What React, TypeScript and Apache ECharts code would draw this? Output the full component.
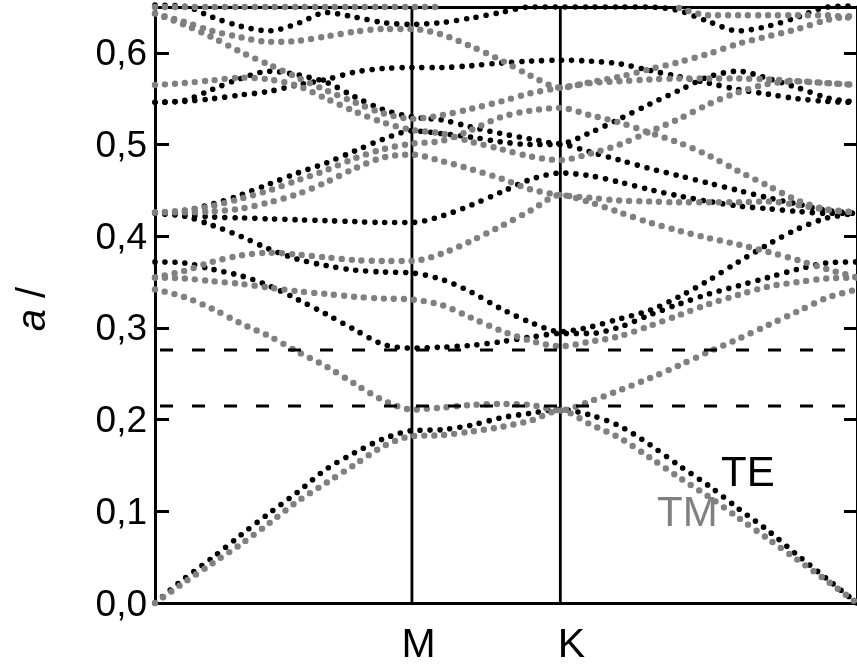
import React, { useEffect, useRef } from "react";
import * as echarts from "echarts";

// k-path positions (normalised): Γ=0, M=0.366, K=0.5774, Γ=1
const K_PATH = [0, 0.0407, 0.0813, 0.122, 0.1627, 0.2033, 0.244, 0.2847, 0.3253, 0.366, 0.4083, 0.4506, 0.4929, 0.5352, 0.5774, 0.6197, 0.662, 0.7042, 0.7465, 0.7887, 0.831, 0.8732, 0.9155, 0.9577, 1.0];
const SYM_M = 0.366;
const SYM_K = 0.5774;
const GAP_LOW = 0.2148;
const GAP_HIGH = 0.2759;
const Y_TICKS = [0, 0.1, 0.2, 0.3, 0.4, 0.5, 0.6];
const X_LABELS = ["M", "K"];

// TE bands (black)
const TE1 = [0, 0.026, 0.049, 0.074, 0.098, 0.121, 0.146, 0.164, 0.179, 0.188, 0.189, 0.194, 0.202, 0.207, 0.211, 0.205, 0.193, 0.173, 0.15, 0.128, 0.103, 0.079, 0.052, 0.026, 0];
const TE2 = [0.372, 0.371, 0.364, 0.357, 0.346, 0.331, 0.315, 0.298, 0.282, 0.278, 0.279, 0.281, 0.285, 0.29, 0.294, 0.294, 0.301, 0.314, 0.326, 0.337, 0.346, 0.355, 0.364, 0.371, 0.372];
const TE3 = [0.425, 0.422, 0.412, 0.4, 0.386, 0.375, 0.368, 0.363, 0.361, 0.36, 0.353, 0.339, 0.321, 0.306, 0.296, 0.301, 0.31, 0.319, 0.334, 0.352, 0.372, 0.391, 0.408, 0.42, 0.425];
const TE4 = [0.425, 0.423, 0.421, 0.42, 0.419, 0.418, 0.417, 0.416, 0.415, 0.415, 0.422, 0.434, 0.448, 0.462, 0.469, 0.466, 0.459, 0.451, 0.444, 0.438, 0.433, 0.43, 0.427, 0.425, 0.425];
const TE5 = [0.546, 0.548, 0.56, 0.572, 0.58, 0.576, 0.568, 0.552, 0.538, 0.53, 0.527, 0.519, 0.512, 0.506, 0.501, 0.513, 0.528, 0.544, 0.559, 0.574, 0.58, 0.572, 0.562, 0.551, 0.546];
const TE6 = [0.425, 0.428, 0.435, 0.445, 0.457, 0.469, 0.48, 0.493, 0.506, 0.515, 0.512, 0.508, 0.503, 0.5, 0.5, 0.492, 0.483, 0.474, 0.466, 0.458, 0.45, 0.442, 0.435, 0.428, 0.425];
const TE7 = [0.546, 0.547, 0.55, 0.554, 0.558, 0.565, 0.571, 0.579, 0.583, 0.584, 0.584, 0.586, 0.589, 0.591, 0.592, 0.591, 0.588, 0.581, 0.574, 0.567, 0.56, 0.555, 0.55, 0.547, 0.546];
const TE8 = [0.652, 0.651, 0.639, 0.629, 0.624, 0.632, 0.644, 0.639, 0.633, 0.631, 0.633, 0.638, 0.644, 0.65, 0.65, 0.65, 0.65, 0.65, 0.646, 0.634, 0.624, 0.629, 0.639, 0.65, 0.651];

// TM bands (grey)
const TM1 = [0, 0.022, 0.043, 0.064, 0.087, 0.111, 0.131, 0.151, 0.171, 0.182, 0.183, 0.187, 0.192, 0.199, 0.21, 0.195, 0.18, 0.159, 0.137, 0.116, 0.093, 0.07, 0.047, 0.024, 0];
const TM2 = [0.342, 0.334, 0.321, 0.305, 0.291, 0.274, 0.258, 0.239, 0.221, 0.211, 0.213, 0.216, 0.217, 0.216, 0.21, 0.22, 0.232, 0.245, 0.259, 0.274, 0.288, 0.303, 0.318, 0.333, 0.342];
const TM3 = [0.355, 0.354, 0.351, 0.348, 0.344, 0.34, 0.337, 0.334, 0.332, 0.331, 0.325, 0.311, 0.297, 0.286, 0.28, 0.285, 0.291, 0.302, 0.314, 0.326, 0.336, 0.345, 0.35, 0.354, 0.355];
const TM4 = [0.355, 0.362, 0.372, 0.379, 0.382, 0.38, 0.377, 0.374, 0.373, 0.373, 0.381, 0.395, 0.411, 0.428, 0.445, 0.437, 0.426, 0.415, 0.406, 0.398, 0.391, 0.383, 0.374, 0.364, 0.355];
const TM5 = [0.426, 0.426, 0.427, 0.43, 0.437, 0.446, 0.459, 0.474, 0.486, 0.489, 0.482, 0.473, 0.463, 0.451, 0.445, 0.442, 0.439, 0.438, 0.437, 0.437, 0.437, 0.438, 0.434, 0.429, 0.426];
const TM6 = [0.426, 0.428, 0.433, 0.441, 0.45, 0.461, 0.472, 0.485, 0.495, 0.501, 0.504, 0.516, 0.53, 0.537, 0.54, 0.532, 0.524, 0.513, 0.502, 0.488, 0.471, 0.455, 0.439, 0.429, 0.426];
const TM7 = [0.565, 0.567, 0.57, 0.573, 0.571, 0.564, 0.55, 0.536, 0.524, 0.516, 0.512, 0.503, 0.495, 0.487, 0.483, 0.49, 0.5, 0.514, 0.528, 0.544, 0.557, 0.566, 0.569, 0.567, 0.565];
const TM8 = [0.643, 0.631, 0.617, 0.601, 0.587, 0.573, 0.559, 0.546, 0.534, 0.528, 0.532, 0.539, 0.547, 0.556, 0.562, 0.567, 0.569, 0.571, 0.572, 0.572, 0.572, 0.571, 0.569, 0.567, 0.565];
const TM9 = [0.643, 0.634, 0.624, 0.617, 0.612, 0.613, 0.618, 0.623, 0.626, 0.626, 0.62, 0.607, 0.592, 0.575, 0.562, 0.568, 0.574, 0.582, 0.59, 0.599, 0.61, 0.618, 0.626, 0.636, 0.641];
const TM10 = [0.65, 0.65, 0.65, 0.65, 0.65, 0.65, 0.65, 0.65, 0.65, 0.65, 0.65, null, null, null, null, null, null, null, null, null, null, null, null, null, null];
const TM11 = [null, null, null, null, null, null, null, null, null, null, null, null, null, null, null, null, null, null, 0.649, 0.641, 0.641, 0.641, 0.641, 0.641, 0.637];

const TE_BANDS = [TE1, TE2, TE3, TE4, TE5, TE6, TE7, TE8];
const TM_BANDS = [TM1, TM2, TM3, TM4, TM5, TM6, TM7, TM8, TM9, TM10, TM11];

const FONT = '"Liberation Sans", Arial, Helvetica, sans-serif';
const BLACK = "#000000";
const GREY = "#808080";

function bandSeries(vals: (number | null)[], color: string, width: number, z: number) {
  return {
    type: "line",
    data: K_PATH.map((k, i) => [k, vals[i] == null ? "-" : vals[i]]),
    showSymbol: false,
    smooth: 0.3,
    clip: false,
    silent: true,
    z,
    lineStyle: { color, width, type: [0, 10], cap: "round" },
  };
}

export default function App() {
  const ref = useRef<HTMLDivElement>(null);
  useEffect(() => {
    if (!ref.current) return;
    const chart = echarts.init(ref.current, undefined, { renderer: "svg" });
    const series: any[] = [];
    [SYM_M, SYM_K].forEach((x) => {
      series.push({
        type: "line",
        data: [[x, 0], [x, 0.65]],
        showSymbol: false,
        silent: true,
        z: 1,
        lineStyle: { color: BLACK, width: 2.8 },
      });
    });
    TE_BANDS.forEach((b) => series.push(bandSeries(b, BLACK, 5.6, 2)));
    TM_BANDS.forEach((b) => series.push(bandSeries(b, GREY, 6.4, 3)));
    [GAP_LOW, GAP_HIGH].forEach((y) => {
      series.push({
        type: "line",
        data: [[0, y], [1, y]],
        showSymbol: false,
        silent: true,
        z: 5,
        lineStyle: { color: BLACK, width: 3, type: [13, 19], dashOffset: 27 },
      });
    });

    const baseX = {
      type: "value",
      min: 0,
      max: 1,
      axisLine: { show: true, onZero: false, lineStyle: { color: BLACK, width: 3 } },
      axisTick: { show: false },
      axisLabel: { show: false },
      splitLine: { show: false },
    };
    const fmt = (v: number) =>
      Y_TICKS.some((t) => Math.abs(t - v) < 1e-6) ? v.toFixed(1).replace(".", ",") : "";

    chart.setOption({
      animation: false,
      grid: { left: 155, top: 7, width: 706, height: 596 },
      xAxis: [
        { ...baseX, position: "bottom" },
        { ...baseX, position: "top" },
      ],
      yAxis: [
        {
          type: "value",
          min: 0,
          max: 0.65,
          interval: 0.1,
          position: "left",
          axisLine: { show: true, onZero: false, lineStyle: { color: BLACK, width: 3 } },
          axisTick: { show: true, inside: true, length: 14, lineStyle: { color: BLACK, width: 3 } },
          axisLabel: {
            formatter: fmt,
            fontSize: 37,
            color: BLACK,
            fontFamily: FONT,
            margin: 8,
            showMaxLabel: false,
          },
          splitLine: { show: false },
        },
        {
          type: "value",
          min: 0,
          max: 0.65,
          interval: 0.1,
          position: "right",
          axisLine: { show: true, onZero: false, lineStyle: { color: BLACK, width: 3 } },
          axisTick: { show: true, inside: true, length: 13, lineStyle: { color: BLACK, width: 3 } },
          axisLabel: { show: false },
          splitLine: { show: false },
        },
      ],
      series,
      graphic: [
        {
          type: "text",
          x: 418.5,
          y: 643,
          silent: true,
          style: { text: X_LABELS[0], fontSize: 41, fontFamily: FONT, fill: BLACK, align: "center", verticalAlign: "middle", textAlign: "center", textVerticalAlign: "middle" },
        },
        {
          type: "text",
          x: 571.5,
          y: 643,
          silent: true,
          style: { text: X_LABELS[1], fontSize: 41, fontFamily: FONT, fill: BLACK, align: "center", verticalAlign: "middle", textAlign: "center", textVerticalAlign: "middle" },
        },
        {
          type: "text",
          x: 721,
          y: 471,
          silent: true,
          z: 10,
          style: { text: "TE", fontSize: 42, fontFamily: FONT, fill: BLACK, align: "left", verticalAlign: "middle", textAlign: "left", textVerticalAlign: "middle" },
        },
        {
          type: "text",
          x: 657,
          y: 511,
          silent: true,
          z: 10,
          style: { text: "TM", fontSize: 42, fontFamily: FONT, fill: GREY, align: "left", verticalAlign: "middle", textAlign: "left", textVerticalAlign: "middle" },
        },
        {
          type: "text",
          x: 31,
          y: 309,
          rotation: Math.PI / 2,
          silent: true,
          style: {
            text: "{i|a} /",
            fontSize: 40,
            fontFamily: FONT,
            fill: BLACK,
            align: "center",
            verticalAlign: "middle",
            textAlign: "center",
            textVerticalAlign: "middle",
            rich: { i: { fontStyle: "italic", fontSize: 40, fontFamily: FONT, fill: BLACK } },
          },
        },
      ],
    });
    return () => chart.dispose();
  }, []);
  return <div ref={ref} style={{ position: "fixed", left: 0, top: 0, width: 857, height: 666 }} />;
}
